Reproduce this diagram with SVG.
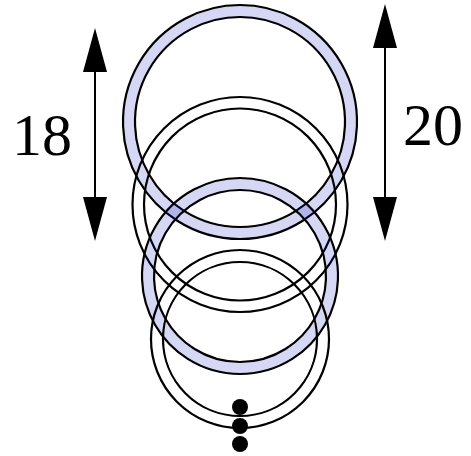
<svg xmlns="http://www.w3.org/2000/svg" width="471" height="456" viewBox="0 0 471 456">
<style>
.band{fill:#0000c0;fill-opacity:0.16;fill-rule:evenodd;stroke:#000;stroke-width:2.2}
.plain{fill:none;stroke:#000;stroke-width:2.2}
.lbl{font-family:"Liberation Serif",serif;font-size:60px;fill:#000;text-anchor:middle}
.dim{stroke:#000;stroke-width:2}
</style>
<defs>
<marker id="ah" viewBox="0 0 44 24" refX="0" refY="12" markerWidth="44" markerHeight="24" markerUnits="userSpaceOnUse" orient="auto-start-reverse">
<path d="M0,0 L44,12 L0,24 Z" fill="#000"/>
</marker>
</defs>
<g id="ring1">
<path class="band" d="M240,5 a117,117 0 1,0 0.01,0 Z M240,17 a105,105 0 1,0 0.01,0 Z"/>
</g>
<g id="ring2">
<circle class="plain" cx="240" cy="204.5" r="107.5"/>
<circle class="plain" cx="240" cy="204.5" r="96"/>
</g>
<g id="ring3">
<path class="band" d="M240,178 a98,98 0 1,0 0.01,0 Z M240,190 a86,86 0 1,0 0.01,0 Z"/>
</g>
<g id="ring4">
<circle class="plain" cx="240" cy="339" r="89"/>
<circle class="plain" cx="240" cy="339" r="77"/>
</g>
<g id="dots" fill="#000">
<circle cx="240" cy="407" r="8"/>
<circle cx="240" cy="426" r="8"/>
<circle cx="240" cy="444" r="8"/>
</g>
<g id="connectors">
<line class="dim" x1="95" y1="72" x2="95" y2="197" marker-start="url(#ah)" marker-end="url(#ah)"/>
<line class="dim" x1="385" y1="48" x2="385" y2="197" marker-start="url(#ah)" marker-end="url(#ah)"/>
</g>
<g id="label18"><text class="lbl" x="42" y="155">18</text></g>
<g id="label20"><text class="lbl" x="433" y="145">20</text></g>
</svg>
